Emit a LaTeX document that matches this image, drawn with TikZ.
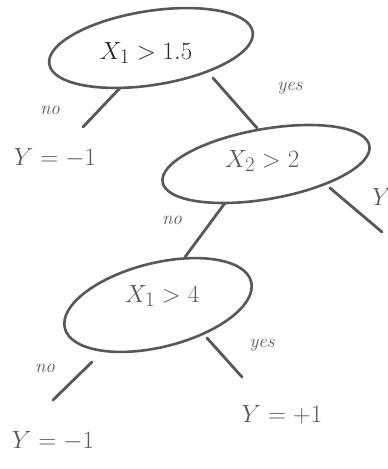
\documentclass[tikz,border=0pt]{standalone}
\usetikzlibrary{shapes.geometric}
\definecolor{pencil}{RGB}{88,88,88}
\definecolor{ink}{RGB}{40,40,40}
\begin{document}
\begin{tikzpicture}[x=1pt,y=-1pt,
  split/.style={draw=pencil,line width=2.6pt,ellipse,inner sep=0pt},
  edge/.style={draw=pencil,line width=2.8pt,line cap=round},
  lbl/.style={text=pencil,font=\fontsize{19}{19}\selectfont\itshape,inner sep=0pt},
  leaf/.style={text=pencil,font=\fontsize{27}{27}\selectfont,inner sep=0pt},
  cond/.style={text=ink,font=\fontsize{28}{28}\selectfont,inner sep=0pt}]
\useasboundingbox (0,0) rectangle (388,469);
% split nodes
\node[split,minimum width=206pt,minimum height=74pt,rotate=9] (root) at (151,48) {};
\node[cond] (roottxt) at (146,53) {$X_1 > 1.5$};
\node[split,minimum width=210pt,minimum height=70pt,rotate=10] (n2) at (266,164) {};
\node[cond,text=pencil] (n2txt) at (262,161) {$X_2 > 2$};
\node[split,minimum width=192pt,minimum height=84pt,rotate=14] (n3) at (158,305) {};
\node[cond,text=pencil] (n3txt) at (162,296) {$X_1 > 4$};
% leaves
\node[leaf] (leafA) at (55,158) {$Y = -1$};
\node[leaf,anchor=west] (leafB) at (372,198) {$Y = +1$};
\node[leaf] (leafC) at (53,441) {$Y = -1$};
\node[leaf] (leafD) at (282,415) {$Y = +1$};
% edge ends
\coordinate (r1) at (120,88);
\coordinate (r2) at (83,127);
\coordinate (r3) at (213,78);
\coordinate (r4) at (257,128);
\coordinate (s1) at (225,203);
\coordinate (s2) at (185,257);
\coordinate (s3) at (330,188);
\coordinate (s4) at (382,232);
\coordinate (t1) at (92,362);
\coordinate (t2) at (53,400);
\coordinate (t3) at (207,338);
\coordinate (t4) at (242,377);
\draw[edge] (r1) -- (r2);
\draw[edge] (r3) -- (r4);
\draw[edge] (s1) -- (s2);
\draw[edge] (s3) -- (s4);
\draw[edge] (t1) -- (t2);
\draw[edge] (t3) -- (t4);
% labels
\node[lbl] (no1) at (50,110) {no};
\node[lbl] (yes1) at (290,88) {yes};
\node[lbl] (no2) at (172,220) {no};
\node[lbl] (no3) at (45,368) {no};
\node[lbl] (yes3) at (262,345) {yes};
\end{tikzpicture}
\end{document}
